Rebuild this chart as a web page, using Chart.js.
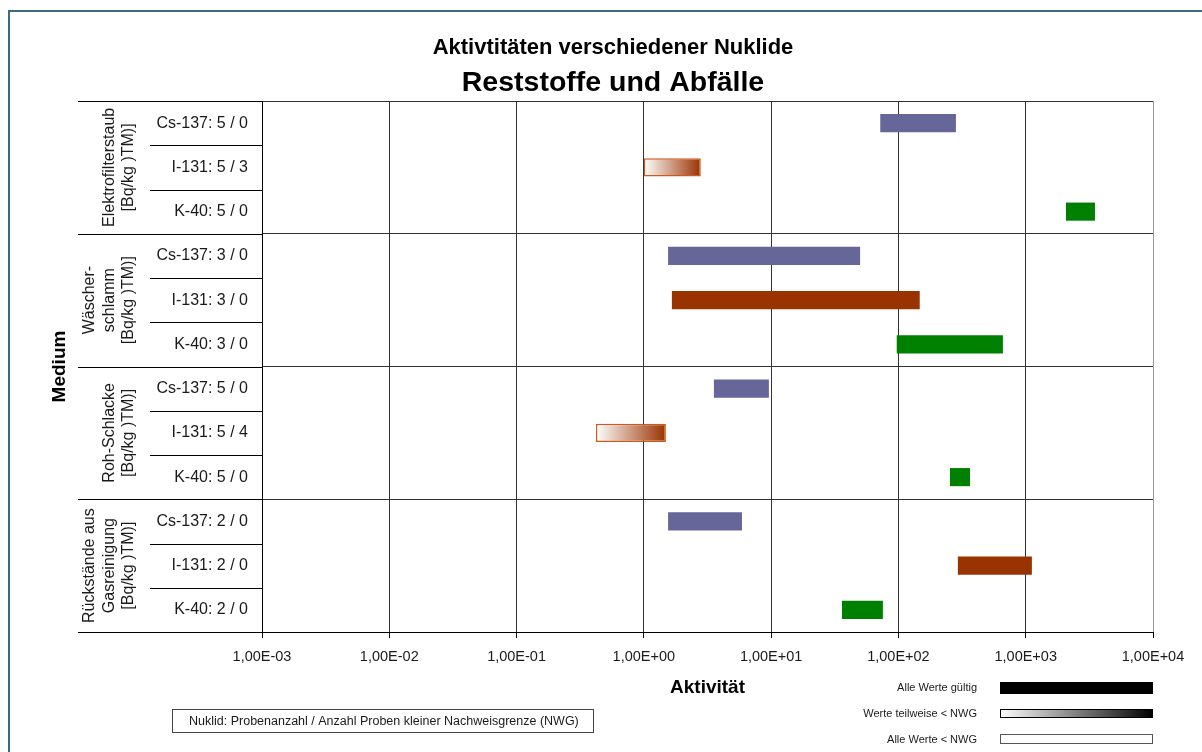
<!DOCTYPE html>
<html lang="de">
<head>
<meta charset="utf-8">
<title>Aktivitäten verschiedener Nuklide</title>
<script src="https://cdn.jsdelivr.net/npm/chart.js@4.4.1/dist/chart.umd.min.js"></script>
<style>
    html, body { margin: 0; padding: 0; background: #fff; }
    canvas { display: block; }
</style>
</head>
<body>
<canvas id="nuklidChart" width="1202" height="752"></canvas>
<script>
// Medien, je Medium drei Nuklide (Zeilen)
var mediaLines = [
    ['Elektrofilterstaub', '[Bq/kg )TM)]'],
    ['Wäscher-', 'schlamm', '[Bq/kg )TM)]'],
    ['Roh-Schlacke', '[Bq/kg )TM)]'],
    ['Rückstände aus', 'Gasreinigung', '[Bq/kg )TM)]']
];
var nuclides = ['Cs-137', 'I-131', 'K-40'];
var nuclideColors = ['#666699', '#993300', '#008000'];
var nuclideBorders = ['#8a8ab8', '#cc5a1e', '#2ea02e'];

// Probenanzahl / Proben < NWG und Spannweite (Min - Max) je Zeile
var sampleCounts = [5, 5, 5, 3, 3, 3, 5, 5, 5, 2, 2, 2];
var belowNwg     = [0, 3, 0, 0, 0, 0, 0, 4, 0, 0, 0, 0];
var minValues = [72, 1.0, 2070, 1.55, 1.66, 97, 3.55, 0.42, 254, 1.55, 293, 36];
var maxValues = [283, 2.8, 3500, 50, 147, 662, 9.6, 1.49, 365, 5.9, 1118, 75.5];

var xTickValues = [1e-3, 1e-2, 1e-1, 1e0, 1e1, 1e2, 1e3, 1e4];
var xTickLabels = ['1,00E-03', '1,00E-02', '1,00E-01', '1,00E+00', '1,00E+01', '1,00E+02', '1,00E+03', '1,00E+04'];

var legendTexts = ['Alle Werte gültig', 'Werte teilweise < NWG', 'Alle Werte < NWG'];
var noteText = 'Nuklid: Probenanzahl / Anzahl Proben kleiner Nachweisgrenze (NWG)';

var FONT = "'Liberation Sans', Arial, sans-serif";
Chart.defaults.font.family = FONT;
Chart.defaults.color = '#1a1a1a';

var rowLabels = [];
var ranges = [];
for (var i = 0; i < sampleCounts.length; i++) {
    rowLabels.push(nuclides[i % 3] + ': ' + sampleCounts[i] + ' / ' + belowNwg[i]);
    ranges.push([minValues[i], maxValues[i]]);
}

function barFill(ctx) {
    if (ctx.type !== 'data') return nuclideColors[0];
    var i = ctx.dataIndex;
    var col = nuclideColors[i % 3];
    if (belowNwg[i] === 0) return col;
    if (belowNwg[i] >= sampleCounts[i]) return '#ffffff';
    var chart = ctx.chart;
    if (!chart.chartArea) return col;
    var x = chart.scales.x;
    var g = chart.ctx.createLinearGradient(x.getPixelForValue(minValues[i]), 0, x.getPixelForValue(maxValues[i]), 0);
    g.addColorStop(0, '#ffffff');
    g.addColorStop(1, col);
    return g;
}

function barBorderWidth(ctx) {
    if (ctx.type !== 'data') return 0;
    return belowNwg[ctx.dataIndex] > 0 ? 1.5 : 0;
}

function barBorderColor(ctx) {
    if (ctx.type !== 'data') return nuclideBorders[0];
    return nuclideBorders[ctx.dataIndex % 3];
}

// Rahmen, Medienbeschriftung, Hinweisbox und Legende
var decorPlugin = {
    id: 'decor',
    beforeDraw: function(chart) {
        var c = chart.ctx;
        c.save();
        c.fillStyle = '#fff';
        c.fillRect(0, 0, chart.width, chart.height);
        c.fillStyle = '#3c6a80';
        c.fillRect(8, 10, chart.width - 8, 2);
        c.fillRect(8, 10, 2, chart.height - 10);
        c.restore();
    },
    afterDraw: function(chart) {
        var c = chart.ctx;
        var y = chart.scales.y;
        var area = chart.chartArea;
        var half = (y.getPixelForValue(1) - y.getPixelForValue(0)) / 2;

        c.save();
        c.strokeStyle = '#000';
        c.lineWidth = 1;
        for (var r = 0; r <= rowLabels.length; r++) {
            var py = Math.round(y.getPixelForValue(r) - half) + 0.5;
            var x0 = (r % 3 === 0) ? 78 : 150;
            c.beginPath();
            c.moveTo(x0, py);
            c.lineTo(area.left, py);
            c.stroke();
        }

        // Medien senkrecht, letzte Zeile rechts
        c.fillStyle = '#1a1a1a';
        c.font = '16px ' + FONT;
        c.textAlign = 'center';
        c.textBaseline = 'middle';
        for (var g = 0; g < mediaLines.length; g++) {
            var lines = mediaLines[g];
            var cy = (y.getPixelForValue(g * 3) + y.getPixelForValue(g * 3 + 2)) / 2;
            for (var k = 0; k < lines.length; k++) {
                var cx = 129 - (lines.length - 1 - k) * 19.5;
                c.save();
                c.translate(cx, cy);
                c.rotate(-Math.PI / 2);
                c.fillText(lines[k], 0, 0);
                c.restore();
            }
        }

        // Hinweisbox
        c.strokeStyle = '#444';
        c.strokeRect(172.5, 709.5, 421, 23);
        c.font = '12.5px ' + FONT;
        c.textAlign = 'left';
        c.fillText(noteText, 189, 721.5);

        // Legende
        c.font = '11px ' + FONT;
        c.textAlign = 'right';
        c.fillText(legendTexts[0], 977, 688);
        c.fillText(legendTexts[1], 977, 713.5);
        c.fillText(legendTexts[2], 977, 739.5);

        c.fillStyle = '#000';
        c.fillRect(1000, 682, 153, 12);

        var grad = c.createLinearGradient(1000, 0, 1153, 0);
        grad.addColorStop(0, '#ffffff');
        grad.addColorStop(1, '#000000');
        c.fillStyle = grad;
        c.fillRect(1000, 709, 153, 9);
        c.strokeStyle = '#000';
        c.strokeRect(1000.5, 709.5, 152, 8);

        c.fillStyle = '#fff';
        c.fillRect(1000, 734, 153, 10);
        c.strokeStyle = '#555';
        c.strokeRect(1000.5, 734.5, 152, 9);
        c.restore();
    }
};

var ctx = document.getElementById('nuklidChart');
var nuklidChart = new Chart(ctx, {
    type: 'bar',
    data: {
        labels: rowLabels,
        datasets: [{
            data: ranges,
            backgroundColor: barFill,
            borderColor: barBorderColor,
            borderWidth: barBorderWidth,
            borderSkipped: false,
            barPercentage: 0.41,
            categoryPercentage: 1
        }]
    },
    options: {
        indexAxis: 'y',
        responsive: false,
        animation: false,
        layout: { padding: { left: 73, right: 49, top: 0, bottom: 50 } },
        plugins: {
            legend: { display: false },
            tooltip: { enabled: false },
            title: {
                display: true,
                text: 'Aktivtitäten verschiedener Nuklide',
                font: { size: 22, weight: 'bold', lineHeight: 0.9 },
                padding: { top: 38.1, bottom: 0 },
                color: '#000'
            },
            subtitle: {
                display: true,
                text: 'Reststoffe und Abfälle',
                font: { size: 28.5, weight: 'bold', lineHeight: 0.9 },
                padding: { top: 12.3, bottom: 5.15 },
                color: '#000'
            }
        },
        scales: {
            x: {
                type: 'logarithmic',
                min: 1e-3,
                max: 1e4,
                afterBuildTicks: function(scale) {
                    scale.ticks = xTickValues.map(function(v) { return { value: v, major: true }; });
                },
                afterFit: function(scale) { scale.height = 70; },
                ticks: {
                    autoSkip: false,
                    maxRotation: 0,
                    padding: 10,
                    font: { size: 14.5 },
                    callback: function(value, index) { return xTickLabels[index]; }
                },
                grid: {
                    color: function(c) { return c.index === xTickValues.length - 1 ? '#999' : '#333'; },
                    tickColor: '#000',
                    tickLength: 6
                },
                border: { color: '#000' },
                title: {
                    display: true,
                    text: 'Aktivität',
                    font: { size: 19, weight: 'bold' },
                    color: '#000',
                    padding: { top: 0, bottom: 3.2 }
                }
            },
            y: {
                afterFit: function(scale) { scale.width = 189; },
                ticks: { padding: 14, font: { size: 16 } },
                grid: {
                    drawTicks: false,
                    color: function(c) { return (c.index !== undefined && c.index % 3 === 0) ? '#333' : 'rgba(0,0,0,0)'; }
                },
                border: { color: '#000' },
                title: {
                    display: true,
                    text: 'Medium',
                    font: { size: 19, weight: 'bold' },
                    color: '#000',
                    padding: -24.4
                }
            }
        }
    },
    plugins: [decorPlugin]
});
</script>
</body>
</html>
